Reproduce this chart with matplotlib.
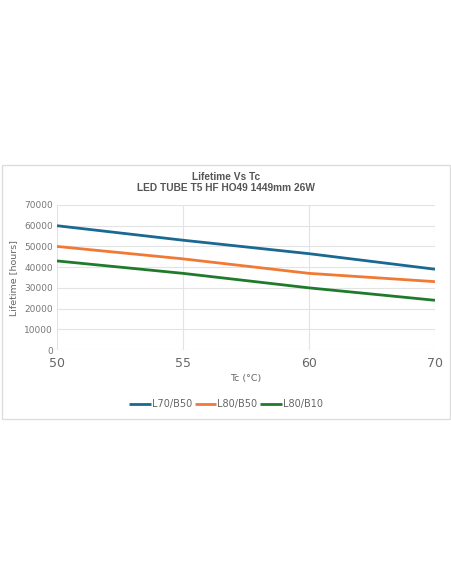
import matplotlib.pyplot as plt
from matplotlib.patches import Rectangle

tc_labels = ["50", "55", "60", "70"]
l70_b50 = [60000, 53000, 46500, 39000]
l80_b50 = [50000, 44000, 37000, 33000]
l80_b10 = [43000, 37000, 30000, 24000]

series = [
    ("L70/B50", l70_b50, "#1b6891"),
    ("L80/B50", l80_b50, "#f07a35"),
    ("L80/B10", l80_b10, "#1f7a2b"),
]

W, H = 452, 584
fig = plt.figure(figsize=(W / 100, H / 100), dpi=100)

# chart frame
fig.patches.append(Rectangle((2 / W, 1 - 419 / H), 448 / W, 254 / H,
                             transform=fig.transFigure, fill=False,
                             edgecolor="#dddddd", linewidth=1))

ax = fig.add_axes([57 / W, 1 - 350 / H, 378 / W, 145 / H])
x = list(range(len(tc_labels)))
for name, vals, col in series:
    ax.plot(x, vals, color=col, linewidth=2, label=name, solid_capstyle="butt")

ax.set_xlim(0, len(tc_labels) - 1)
ax.set_ylim(0, 70000)
ax.set_yticks(range(0, 70001, 10000))
ax.set_xticks(x)
ax.set_xticklabels(tc_labels)
ax.grid(True, color="#e3e3e3", linewidth=0.8)
ax.set_axisbelow(True)
for s in ax.spines.values():
    s.set_visible(False)
ax.tick_params(axis="y", length=0, labelsize=6.5, labelcolor="#777777", pad=3)
ax.tick_params(axis="x", length=0, labelsize=9, labelcolor="#666666", pad=5)
ax.set_ylabel("Lifetime [hours]", fontsize=6.8, color="#666666", labelpad=4)
ax.set_xlabel("Tc (°C)", fontsize=6.8, color="#666666", labelpad=3)

title_font = ["Liberation Sans", "DejaVu Sans"]
fig.text(0.5, 1 - 177 / H, "Lifetime Vs Tc", ha="center", va="center",
         fontsize=7.3, fontweight="bold", color="#555555", family=title_font)
fig.text(0.5, 1 - 188 / H, "LED TUBE T5 HF HO49 1449mm 26W", ha="center", va="center",
         fontsize=7.3, fontweight="bold", color="#555555", family=title_font)

fig.legend(loc="center", bbox_to_anchor=(0.5, 1 - 404 / H), ncol=3, frameon=False,
           fontsize=7, labelcolor="#666666", handlelength=2.2, handletextpad=0.1,
           columnspacing=0.3)

fig.savefig("out.png", dpi=100)
